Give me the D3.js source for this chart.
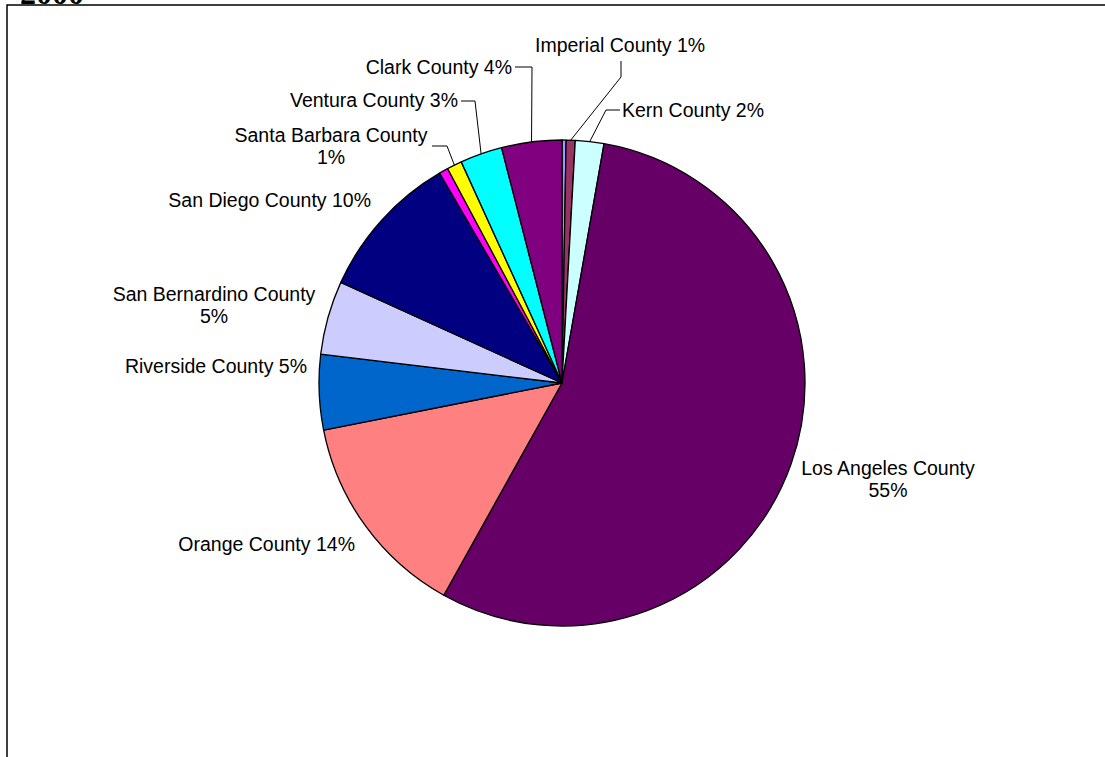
<!DOCTYPE html>
<html>
<head>
<meta charset="utf-8">
<script src="https://cdn.jsdelivr.net/npm/d3@7/dist/d3.min.js"></script>
<style>
  html, body { margin: 0; padding: 0; background: #ffffff; }
  svg { display: block; }
  .lbl { font-family: "Liberation Sans", Arial, sans-serif; font-size: 19.5px; fill: #000; }
</style>
</head>
<body>
<svg id="chart" width="1105" height="757"></svg>
<script>
// Share of population by county, 2000 (percent)
const categories = [
  "Other (1)", "Imperial County", "Kern County", "Los Angeles County",
  "Orange County", "Riverside County", "San Bernardino County",
  "San Diego County", "Other (2)", "Santa Barbara County",
  "Ventura County", "Clark County"
];
const shares = [0.27, 0.6, 1.9, 55.3, 13.8, 5.0, 4.9, 9.8, 0.6, 1.0, 2.8, 4.0];
const sliceColors = [
  "#9999FF", "#993366", "#CCFFFF", "#660066", "#FF8080", "#0066CC",
  "#CCCCFF", "#000080", "#FF00FF", "#FFFF00", "#00FFFF", "#800080"
];
const titleText = "2000";

// Label placement (text position, anchor, line split, leader knee points)
const labelLayout = {
  "Imperial County":       { x: 535, y: 52,  anchor: "start",  split: false, knees: [[621, 61], [621, 77]] },
  "Kern County":           { x: 622, y: 117, anchor: "start",  split: false, knees: [[620, 110], [606, 110]] },
  "Los Angeles County":    { x: 888, y: 475, anchor: "middle", split: true },
  "Orange County":         { x: 355, y: 551, anchor: "end",    split: false },
  "Riverside County":      { x: 307, y: 373, anchor: "end",    split: false },
  "San Bernardino County": { x: 214, y: 301, anchor: "middle", split: true },
  "San Diego County":      { x: 371, y: 207, anchor: "end",    split: false },
  "Santa Barbara County":  { x: 331, y: 142, anchor: "middle", split: true, knees: [[432, 146], [447, 146]] },
  "Ventura County":        { x: 458, y: 107, anchor: "end",    split: false, knees: [[461, 101], [475, 101]] },
  "Clark County":          { x: 512, y: 74,  anchor: "end",    split: false, knees: [[515, 67], [532, 67]] }
};

const svg = d3.select("#chart");
const cx = 562, cy = 383, radius = 243;
const lineGap = 22;

// outer frame of the chart area
svg.append("rect")
  .attr("x", 7).attr("y", 5)
  .attr("width", 1200).attr("height", 900)
  .attr("fill", "none").attr("stroke", "#000").attr("stroke-width", 1.5);

// title, mostly above the visible area
svg.append("text")
  .attr("x", 20).attr("y", 3.5)
  .attr("font-family", "'Liberation Serif', 'Times New Roman', serif")
  .attr("font-weight", "bold")
  .attr("font-size", 32)
  .text(titleText);

const data = categories.map((name, i) => ({ name, value: shares[i] }));
const total = d3.sum(shares);

const color = d3.scaleOrdinal().domain(categories).range(sliceColors);
const pie = d3.pie().sort(null).value(d => d.value);
const arc = d3.arc().innerRadius(0).outerRadius(radius);
const arcs = pie(data);

const g = svg.append("g").attr("transform", `translate(${cx},${cy})`);

g.selectAll("path.slice")
  .data(arcs)
  .join("path")
  .attr("class", "slice")
  .attr("d", arc)
  .attr("fill", d => color(d.data.name))
  .attr("stroke", "#000")
  .attr("stroke-width", 1.3)
  .attr("stroke-linejoin", "round");

// point on the rim at the middle of a slice, in page coordinates
function rimPoint(d) {
  const a = (d.startAngle + d.endAngle) / 2;
  return [cx + radius * Math.sin(a), cy - radius * Math.cos(a)];
}

const labelled = arcs.filter(d => labelLayout[d.data.name]);

// leader lines
svg.append("g").selectAll("polyline")
  .data(labelled.filter(d => labelLayout[d.data.name].knees))
  .join("polyline")
  .attr("points", d => labelLayout[d.data.name].knees.concat([rimPoint(d)]).map(p => p.join(",")).join(" "))
  .attr("fill", "none")
  .attr("stroke", "#000")
  .attr("stroke-width", 1);

// labels: name and rounded percentage
const labels = svg.append("g").selectAll("text")
  .data(labelled)
  .join("text")
  .attr("class", "lbl")
  .attr("text-anchor", d => labelLayout[d.data.name].anchor)
  .attr("x", d => labelLayout[d.data.name].x)
  .attr("y", d => labelLayout[d.data.name].y);

labels.each(function(d) {
  const L = labelLayout[d.data.name];
  const pct = Math.round(d.data.value / total * 100) + "%";
  const t = d3.select(this);
  if (L.split) {
    t.append("tspan").attr("x", L.x).attr("dy", 0).text(d.data.name);
    t.append("tspan").attr("x", L.x).attr("dy", lineGap).text(pct);
  } else {
    t.text(d.data.name + " " + pct);
  }
});
</script>
</body>
</html>
